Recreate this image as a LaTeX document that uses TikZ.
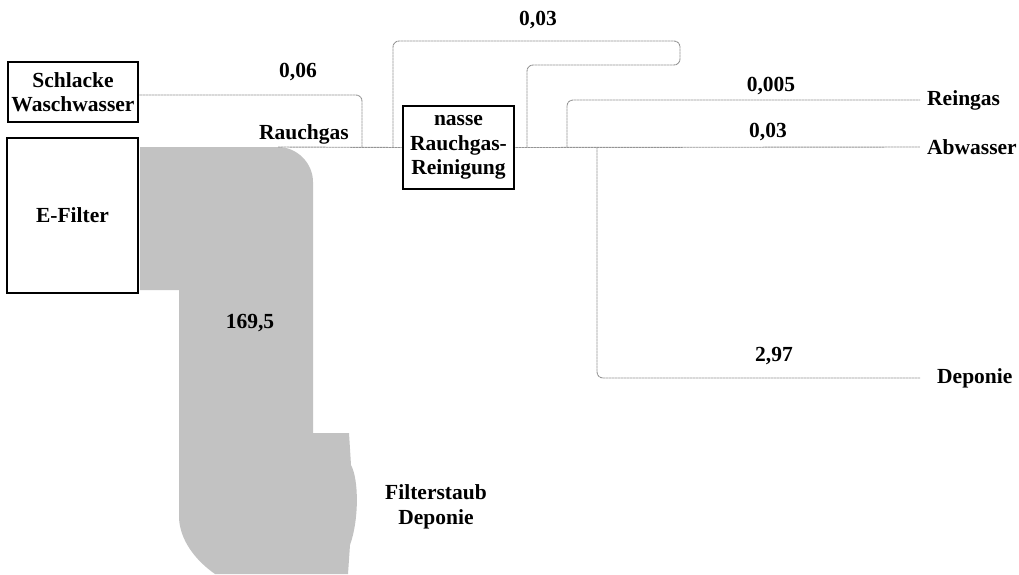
\documentclass[tikz,border=0pt]{standalone}
\usepackage{fontspec}
\setmainfont{Liberation Serif}
\begin{document}
\begin{tikzpicture}[x=1pt,y=-1pt,
  txt/.style={font=\bfseries\fontsize{21.5}{24.5}\selectfont,align=center},
  box/.style={txt,draw=black,line width=2.6pt,fill=white,inner sep=0pt},
  lbl/.style={txt,inner sep=0pt},
  flow/.style={draw=black!42,line width=0.9pt,rounded corners=6pt,dash pattern=on 2.5pt off 0.5pt},
  dust/.style={fill=black!24}]
\useasboundingbox (0,0) rectangle (1019,574);

% Filterstaub stream (E-Filter -> Deponie)
\fill[dust] (140,147) -- (278,147)
  .. controls (297,147) and (313,163) .. (313,182)
  -- (313,433) -- (349,433) -- (351,465)
  .. controls (359,480) and (359,520) .. (350,545) -- (348,574)
  -- (215,574) .. controls (195,560) and (180,540) .. (179,518)
  -- (179,290) -- (140,290) -- cycle;
\coordinate (dustTR) at (278,147);

% boxes
\node[box,minimum width=130pt,minimum height=60pt] (schlacke) at (73,92) {Schlacke\\Waschwasser};
\node[box,minimum width=131pt,minimum height=155pt] (efilter) at (72.5,215.5) {E-Filter};
\node[box,minimum width=111pt,minimum height=83pt] (nasse) at (458.5,147.5) {nasse\\Rauchgas-\\Reinigung};

% end labels
\node[lbl,anchor=west] (reingas) at (927,100) {Reingas};
\node[lbl,anchor=west] (abwasser) at (927,147) {Abwasser};
\node[lbl,anchor=west] (deponie) at (937,378) {Deponie};
\node[lbl] (filterstaub) at (436,507) {Filterstaub\\Deponie};

% value labels
\node[lbl] (v06) at (298,72) {0,06};
\node[lbl] (vrauch) at (304,134) {Rauchgas};
\node[lbl] (v03a) at (538,20) {0,03};
\node[lbl] (v005) at (771,86) {0,005};
\node[lbl] (v03b) at (768,132) {0,03};
\node[lbl] (v297) at (774,356) {2,97};
\node[lbl] (v1695) at (250,323) {169,5};

% junction coordinates
\coordinate (j06) at (362,147);
\coordinate (loopL) at (393,147);
\coordinate (loopR) at (527,147);
\coordinate (loopA) at (680,65);
\coordinate (loopB) at (393,41);
\coordinate (jr) at (567,147);
\coordinate (jd) at (597,147);

% flows
\draw[flow] ([yshift=-3pt]schlacke.east) -| (j06);
\draw[flow] (dustTR) -- (nasse.west);
\draw[flow] (loopR) |- (loopA) |- (loopB) -- (loopL);
\draw[flow] (nasse.east) -- ([xshift=-7pt]abwasser.west);
\draw[flow] (jr) |- ([xshift=-7pt]reingas.west);
\draw[flow] (jd) |- ([xshift=-17pt]deponie.west);
\end{tikzpicture}
\end{document}
